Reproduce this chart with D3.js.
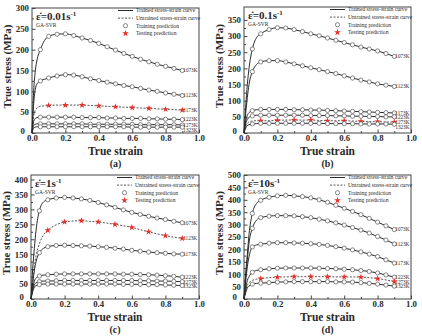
<!DOCTYPE html>
<html><head><meta charset="utf-8">
<script src="https://cdn.jsdelivr.net/npm/d3@7"></script>
<style>body{margin:0;background:#fff}svg{display:block}</style></head>
<body>
<svg id="chart" width="422" height="336"></svg>
<script>
// ---------- data ----------
const strain = [0,0.01,0.02,0.03,0.05,0.075,0.1,0.15,0.2,0.25,0.3,0.35,0.4,0.45,0.5,0.55,0.6,0.65,0.7,0.75,0.8,0.85,0.9];
const temps = ["1073K","1123K","1173K","1223K","1273K","1323K"];
const xTicks = [0,0.2,0.4,0.6,0.8,1.0];
const yTicksA = [0,50,100,150,200,250,300];
const yTicksB = [0,50,100,150,200,250,300,350];
const yTicksC = [0,50,100,150,200,250,300,350,400];
const yTicksD = [0,50,100,150,200,250,300,350,400,450,500];
const rates = ["0.01","0.1","1","10"];
const letters = ["(a)","(b)","(c)","(d)"];
const testingTemp = ["1173K","1273K","1123K","1273K"];
const legendLabels = ["Trained stress-strain curve","Untrained stress-strain curve","Training prediction","Testing prediction"];

// panel (a) 0.01 s^-1
const a1073 = [0,100,150,175,200,222,232,237,238,234,228,222,215,207,199,191,184,177,171,165,160,155,150];
const a1123 = [0,70,105,118,125,129,132,137,140,139,135,130,126,122,118,114,111,107,103,100,96,93,90];
const a1173 = [0,40,55,60,64,65,66,67,67,67,67,66,65,64,63,62,61,60,59,58,57,56,55];
const a1223 = [0,28,35,37,38,38,38,38,38,38,37,37,37,36,36,35,35,35,34,34,33,33,32];
const a1273 = [0,18,21,22,22,22,22,22,22,22,22,21,21,21,21,21,21,20,20,20,20,20,19];
const a1323 = [0,12,14,15,15,15,15,15,15,15,15,15,15,15,15,15,14,14,14,14,14,14,14];
// panel (b) 0.1 s^-1
const b1073 = [0,80,150,200,260,295,307,320,326,325,320,314,307,301,294,287,280,273,266,260,254,246,237];
const b1123 = [0,60,110,150,190,212,220,224,224,220,214,208,202,196,190,184,177,170,164,158,152,148,144];
const b1173 = [0,35,55,63,69,72,73,73,73,73,72,72,71,71,70,69,68,67,66,65,64,63,62];
const b1223 = [0,28,42,48,53,55,55,55,55,55,55,55,54,54,54,53,53,52,52,51,51,50,50];
const b1273 = [0,20,30,34,37,38,38,38,39,40,40,40,40,39,38,38,38,37,36,35,35,34,34];
const b1323 = [0,15,23,26,28,29,30,30,30,30,30,30,30,30,29,29,29,29,28,28,28,28,27];
// panel (c) 1 s^-1
const c1073 = [0,100,170,230,295,325,332,338,340,338,335,330,323,315,307,298,290,283,277,271,266,260,255];
const c1123 = [0,60,110,145,185,215,230,248,258,261,262,260,258,254,250,245,240,232,225,218,212,207,203];
const c1173 = [0,50,95,125,155,170,175,179,180,179,178,177,175,173,170,167,163,160,157,155,153,151,150];
const c1223 = [0,35,60,70,77,80,81,83,84,84,84,84,84,84,84,83,83,82,81,80,78,76,73];
const c1273 = [0,30,48,54,58,60,60,61,62,62,62,62,62,62,62,62,62,61,61,60,60,59,58];
const c1323 = [0,25,40,45,48,50,50,50,50,50,50,50,50,50,50,49,49,49,48,48,47,46,45];
// panel (d) 10 s^-1
const d1073 = [0,100,180,260,345,385,398,410,416,418,416,413,408,400,390,378,366,353,340,325,310,295,280];
const d1123 = [0,90,160,225,285,318,328,334,336,336,335,332,328,322,315,307,298,288,278,266,252,238,222];
const d1173 = [0,70,130,170,210,218,221,225,227,227,226,225,223,220,216,211,205,198,190,181,171,158,145];
const d1223 = [0,40,75,90,108,115,118,122,124,125,125,125,125,124,123,122,120,118,115,111,105,97,88];
const d1273 = [0,30,55,65,75,80,82,86,88,89,90,90,90,90,90,89,89,89,88,86,82,77,70];
const d1323 = [0,25,45,52,60,63,64,66,68,69,70,70,70,70,70,69,69,68,66,63,60,56,52];

const seriesSets = [
  [a1073,a1123,a1173,a1223,a1273,a1323],
  [b1073,b1123,b1173,b1223,b1273,b1323],
  [c1073,c1123,c1173,c1223,c1273,c1323],
  [d1073,d1123,d1173,d1223,d1273,d1323]
];
const yTickSets = [yTicksA,yTicksB,yTicksC,yTicksD];
const yMax = [300,390,415,500];

// ---------- layout ----------
const boxes = [
  {l:32,r:199,t:8,b:133},
  {l:244,r:411,t:7,b:133},
  {l:31,r:199,t:175,b:299},
  {l:244,r:411,t:175,b:299}
];
const serif = "'Liberation Serif','Times New Roman',serif";
const ink = "#2a2a2a";
const red = "#e8302a";
const svg = d3.select("#chart");
const star = d3.symbol().type(d3.symbolStar).size(14);

boxes.forEach((bx,pi)=>{
  const g = svg.append("g");
  const x = d3.scaleLinear().domain([0,1]).range([bx.l,bx.r]);
  const y = d3.scaleLinear().domain([0,yMax[pi]]).range([bx.b,bx.t]);

  // minor ticks
  const xMinor = d3.range(0.1,1,0.2);
  const yMinor = yTickSets[pi].slice(0,-1).map(v=>v+25);
  g.append("g").attr("transform",`translate(0,${bx.b})`)
    .call(d3.axisBottom(x).tickValues(xMinor).tickSize(-2).tickFormat(""))
    .call(s=>s.select(".domain").remove());
  g.append("g").attr("transform",`translate(${bx.l},0)`)
    .call(d3.axisLeft(y).tickValues(yMinor).tickSize(-2).tickFormat(""))
    .call(s=>s.select(".domain").remove());
  // major axes
  const xa = g.append("g").attr("transform",`translate(0,${bx.b})`)
    .call(d3.axisBottom(x).tickValues(xTicks).tickSize(-3.5).tickPadding(2).tickFormat(d3.format(".1f")));
  const ya = g.append("g").attr("transform",`translate(${bx.l},0)`)
    .call(d3.axisLeft(y).tickValues(yTickSets[pi]).tickSize(-3.5).tickPadding(3));
  [xa,ya].forEach(a=>{
    a.select(".domain").remove();
    a.selectAll("text").attr("font-family",serif).attr("font-weight","bold").attr("font-size",8.8).attr("fill",ink);
  });
  ya.selectAll(".tick text").filter(d=>d===0).attr("dy","0.1em").attr("x",-7);
  g.selectAll(".tick line").attr("stroke","#444");

  // frame
  g.append("rect").attr("x",bx.l).attr("y",bx.t).attr("width",bx.r-bx.l).attr("height",bx.b-bx.t)
    .attr("fill","none").attr("stroke","#444").attr("stroke-width",1);

  // axis titles
  g.append("text").attr("transform",`translate(${bx.l-21.5},${(bx.t+bx.b)/2-4}) rotate(-90)`)
    .attr("text-anchor","middle").attr("font-family",serif).attr("font-weight","bold")
    .attr("font-size",11).attr("fill",ink).text("True stress (MPa)");
  g.append("text").attr("x",(bx.l+bx.r)/2).attr("y",bx.b+22)
    .attr("text-anchor","middle").attr("font-family",serif).attr("font-weight","bold")
    .attr("font-size",11.5).attr("fill",ink).text("True strain");
  g.append("text").attr("x",(bx.l+bx.r)/2).attr("y",bx.b+33.5)
    .attr("text-anchor","middle").attr("font-family",serif).attr("font-weight","bold")
    .attr("font-size",10).attr("fill",ink).text(letters[pi]);

  // curves
  const line = d3.line().x((d,i)=>x(strain[i])).y(d=>y(d)).curve(d3.curveMonotoneX);
  const ends = [];
  seriesSets[pi].forEach((vals,si)=>{
    const isTest = temps[si]===testingTemp[pi];
    g.append("path").datum(vals).attr("d",line).attr("fill","none")
      .attr("stroke",ink).attr("stroke-width",isTest?0.8:1)
      .attr("stroke-dasharray",isTest?"2,1.5":null);
    if(isTest){
      const idx = strain.map((s,i)=>i).filter(i=>strain[i]>=0.099 && Math.abs(strain[i]*10-Math.round(strain[i]*10))<1e-6);
      g.selectAll(null).data(idx).join("path").attr("d",star)
        .attr("transform",i=>`translate(${x(strain[i])},${y(vals[i])})`).attr("fill",red);
    } else {
      const idx = strain.map((s,i)=>i).filter(i=>strain[i]>=0.049 && Math.abs(strain[i]*20-Math.round(strain[i]*20))<1e-6);
      g.selectAll(null).data(idx).join("circle")
        .attr("cx",i=>x(strain[i])).attr("cy",i=>y(vals[i])).attr("r",2.1)
        .attr("fill","#fff").attr("stroke","#555").attr("stroke-width",0.7);
    }
    ends.push({t:temps[si], y:y(vals[vals.length-1])});
  });
  // end labels with min spacing
  ends.sort((a,b)=>a.y-b.y);
  for(let i=1;i<ends.length;i++) if(ends[i].y-ends[i-1].y<4.6) ends[i].y=ends[i-1].y+4.6;
  const over = ends[ends.length-1].y-(bx.b-3);
  if(over>0) ends.forEach(e=>{ if(e.y>bx.b-30) e.y-=over; });
  ends.forEach(e=>{
    g.append("text").attr("x",x(0.9)+1).attr("y",e.y).attr("dy","0.35em")
      .attr("font-family",serif).attr("font-size",5.2).attr("fill",ink).text(e.t);
  });

  // rate annotation
  const ann = g.append("text").attr("x",bx.l+4).attr("y",bx.t+12)
    .attr("font-family",serif).attr("font-weight","bold").attr("font-size",11).attr("fill",ink);
  ann.append("tspan").text("\u03B5\u0307="+rates[pi]+"s");
  ann.append("tspan").attr("dy",-4).attr("font-size",7).text("-1");
  g.append("text").attr("x",bx.l+4).attr("y",bx.t+19)
    .attr("font-family",serif).attr("font-size",5.5).attr("fill",ink).text("GA-SVR");

  // legend
  const lx = bx.l+86, ly = bx.t+2.5;
  legendLabels.forEach((lab,k)=>{
    const yy = ly+k*7.6;
    if(k<2){
      g.append("line").attr("x1",lx).attr("x2",lx+15).attr("y1",yy).attr("y2",yy)
        .attr("stroke",ink).attr("stroke-width",k===0?1:0.8).attr("stroke-dasharray",k===1?"2,1.5":null);
    } else if(k===2){
      g.append("circle").attr("cx",lx+7.5).attr("cy",yy).attr("r",2.1).attr("fill","#fff").attr("stroke","#555").attr("stroke-width",0.7);
    } else {
      g.append("path").attr("d",star).attr("transform",`translate(${lx+7.5},${yy})`).attr("fill",red);
    }
    g.append("text").attr("x",lx+18).attr("y",yy).attr("dy","0.35em")
      .attr("font-family",serif).attr("font-size",5.6).attr("fill",ink).text(lab);
  });
});
</script>
</body></html>
